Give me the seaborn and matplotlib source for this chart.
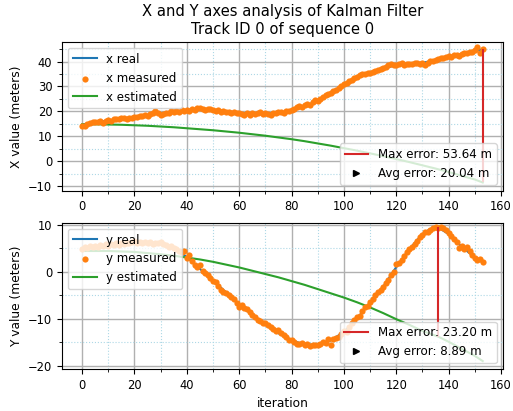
import numpy as np
import pandas as pd
import matplotlib
matplotlib.use("Agg")
import matplotlib.pyplot as plt
from matplotlib.lines import Line2D
from matplotlib.ticker import AutoMinorLocator
import seaborn as sns

# ---------------- data ----------------
iterations = list(range(154))

x_measured = [
    14.3, 14.0, 15.0, 15.3, 15.6, 15.9, 15.8, 16.0, 15.5, 16.3,
    16.6, 16.2, 16.9, 17.0, 16.8, 17.3, 17.2, 17.0, 17.5, 17.3,
    17.8, 17.6, 18.1, 18.0, 18.4, 18.2, 18.9, 19.5, 20.0, 19.2,
    18.6, 19.0, 19.5, 19.3, 20.0, 19.8, 20.2, 19.9, 20.4, 20.1,
    20.6, 20.3, 20.9, 20.7, 21.2, 21.5, 21.0, 20.6, 21.1, 20.8,
    20.5, 20.2, 20.4, 19.9, 20.1, 19.6, 19.9, 19.4, 19.8, 19.2,
    19.5, 19.0, 18.5, 19.2, 18.6, 19.4, 18.8, 19.3, 19.7, 18.9,
    19.4, 19.0, 18.6, 19.5, 19.2, 19.6, 19.9, 19.3, 20.2, 20.0,
    20.4, 20.9, 21.6, 22.1, 21.7, 22.5, 23.0, 22.6, 23.8, 24.5,
    24.2, 25.0, 25.6, 26.6, 27.0, 27.4, 28.2, 28.6, 29.5, 30.1,
    30.8, 31.5, 32.0, 32.6, 33.4, 34.0, 34.5, 34.9, 35.2, 35.6,
    35.4, 36.0, 36.2, 36.8, 37.1, 37.5, 38.0, 38.6, 38.9, 38.7,
    38.6, 39.0, 39.4, 38.8, 39.2, 39.0, 38.9, 39.4, 39.6, 39.2,
    39.6, 38.8, 39.5, 40.1, 40.4, 40.7, 41.1, 41.5, 41.3, 41.9,
    42.2, 42.0, 42.5, 42.8, 42.4, 43.1, 43.6, 43.3, 44.0, 43.8,
    44.5, 45.8, 43.5, 45.2,
]

y_measured = [
    4.8, 5.2, 5.0, 5.4, 5.2, 5.5, 5.3, 5.6, 5.4, 5.8,
    5.5, 5.9, 5.6, 6.0, 5.7, 6.1, 5.8, 6.2, 6.0, 6.4,
    6.5, 6.1, 6.3, 6.0, 6.4, 6.1, 6.3, 5.9, 6.2, 6.0,
    6.3, 5.8, 5.6, 5.2, 5.5, 5.0, 4.8, 4.5, 4.1, 4.3,
    3.0, 3.5, 2.2, 1.5, 1.0, 1.4, 0.2, -0.3, -0.6, -1.3,
    -1.9, -2.1, -3.0, -3.8, -4.3, -4.6, -4.9, -5.4, -5.8, -6.7,
    -7.5, -7.1, -7.8, -8.0, -8.6, -9.2, -9.6, -10.2, -10.5, -11.0,
    -10.8, -11.4, -11.8, -12.2, -12.6, -12.4, -13.1, -13.4, -13.8, -14.5,
    -14.6, -15.0, -15.3, -15.4, -15.1, -15.6, -15.3, -15.7, -15.6, -15.5,
    -15.6, -15.3, -14.9, -15.2, -14.4, -15.6, -14.3, -14.0, -13.8, -13.2,
    -12.6, -12.8, -11.8, -11.0, -10.2, -9.6, -9.5, -8.4, -7.6, -7.2,
    -6.4, -5.8, -5.0, -4.4, -3.8, -3.2, -2.4, -1.8, -0.8, -0.1,
    1.6, 1.8, 2.4, 3.4, 4.1, 4.8, 5.3, 5.9, 6.5, 7.3,
    7.9, 8.4, 8.5, 8.8, 9.2, 9.4, 9.3, 9.6, 9.2, 8.8,
    8.2, 7.6, 6.9, 6.4, 5.1, 5.4, 4.8, 5.2, 4.3, 3.6,
    3.0, 2.4, 2.8, 2.0,
]

x_key_iter = [0, 5, 10, 15, 20, 25, 30, 35, 40, 45, 50, 55, 60, 65, 70, 75,
              80, 85, 90, 95, 100, 105, 110, 115, 120, 125, 130, 135, 140,
              145, 150, 153]
x_real = [14.5, 15.6, 16.3, 17.0, 17.7, 18.4, 19.2, 19.8, 20.4, 20.9, 20.6,
          20.0, 19.4, 19.0, 19.1, 19.4, 20.2, 22.0, 24.3, 27.2, 30.6, 33.8,
          35.6, 37.2, 38.6, 39.0, 39.5, 40.6, 41.9, 43.0, 44.2, 45.0]
x_estimated = [14.8, 14.8, 14.7, 14.6, 14.4, 14.2, 13.9, 13.6, 13.2, 12.8,
               12.4, 11.9, 11.4, 10.8, 10.2, 9.5, 8.8, 8.0, 7.1, 6.2, 5.2,
               4.2, 3.1, 2.0, 0.8, -0.4, -1.7, -3.0, -4.4, -5.9, -7.4, -8.6]

y_key_iter = [0, 10, 20, 30, 35, 40, 45, 50, 55, 60, 65, 70, 75, 80, 85, 90,
              95, 100, 105, 110, 115, 120, 125, 130, 133, 136, 140, 145, 150,
              153]
y_real = [4.8, 5.4, 6.1, 6.0, 5.2, 3.1, 0.6, -1.9, -4.4, -6.9, -9.2, -11.3,
          -13.1, -14.6, -15.5, -15.5, -14.6, -12.8, -10.0, -6.5, -3.2, 1.0,
          4.8, 8.0, 9.1, 9.4, 8.0, 5.3, 3.0, 2.0]
y_estimated = [4.4, 4.4, 4.2, 3.7, 3.4, 3.0, 2.6, 2.1, 1.5, 0.9, 0.2, -0.5,
               -1.2, -2.0, -2.8, -3.7, -4.6, -5.5, -6.5, -7.6, -8.8, -10.1,
               -11.3, -12.6, -13.2, -13.8, -14.9, -16.4, -17.9, -19.0]

max_error_labels = ["Max error: 53.64 m", "Max error: 23.20 m"]
avg_error_labels = ["Avg error: 20.04 m", "Avg error: 8.89 m"]

# ---------------- plotting ----------------
TICK = 8.3
LABEL = 8.8
LEG = 8.6

fig = plt.figure(figsize=(5.13, 4.11), dpi=100)
ax1 = fig.add_axes([0.121, 0.536, 0.859, 0.362])
ax2 = fig.add_axes([0.121, 0.102, 0.859, 0.356])

panels = [
    (ax1, "x", x_key_iter, x_real, x_measured, x_estimated,
     "X value (meters)", (-11.9, 47.9)),
    (ax2, "y", y_key_iter, y_real, y_measured, y_estimated,
     "Y value (meters)", (-20.7, 10.4)),
]

for k, (ax, name, kit, real, meas, est, ylabel, ylim) in enumerate(panels):
    df_key = pd.DataFrame({"iteration": kit, "real": real, "est": est})
    df_meas = pd.DataFrame({"iteration": iterations, "meas": meas})

    sns.lineplot(data=df_key, x="iteration", y="real", ax=ax, color="C0",
                 lw=1.5, label=f"{name} real", zorder=2)
    sns.scatterplot(data=df_meas, x="iteration", y="meas", ax=ax, color="C1",
                    s=20, linewidth=0, label=f"{name} measured", zorder=3)
    sns.lineplot(data=df_key, x="iteration", y="est", ax=ax, color="C2",
                 lw=1.5, label=f"{name} estimated", zorder=2.5)

    err = np.abs(np.array(real) - np.array(est))
    imax = int(np.argmax(err))
    ax.vlines(kit[imax], est[imax], real[imax], color="tab:red", lw=1.5,
              zorder=4)

    ax.set_xlim(-7.65, 160.65)
    ax.set_ylim(*ylim)
    ax.set_xticks(range(0, 161, 20))
    ax.xaxis.set_minor_locator(AutoMinorLocator(2))
    ax.yaxis.set_minor_locator(AutoMinorLocator(2))
    ax.grid(which="major", color="#b0b0b0", lw=1.0)
    ax.grid(which="minor", color="#add8e6", ls=":", lw=0.8)
    ax.tick_params(labelsize=TICK)
    ax.set_ylabel(ylabel, fontsize=LABEL)
    ax.set_xlabel("iteration" if k == 1 else "", fontsize=LABEL)

    leg1 = ax.legend(loc="upper left", fontsize=LEG)
    handles2 = [
        Line2D([], [], color="tab:red", lw=1.5),
        Line2D([], [], color="black", marker=">", ls="none", markersize=5),
    ]
    ax.add_artist(leg1)
    ax.legend(handles2, [max_error_labels[k], avg_error_labels[k]],
              loc="lower right", fontsize=LEG)

ax1.set_title("X and Y axes analysis of Kalman Filter\nTrack ID 0 of sequence 0",
              fontsize=10.6)

fig.savefig("out.png", dpi=100)
